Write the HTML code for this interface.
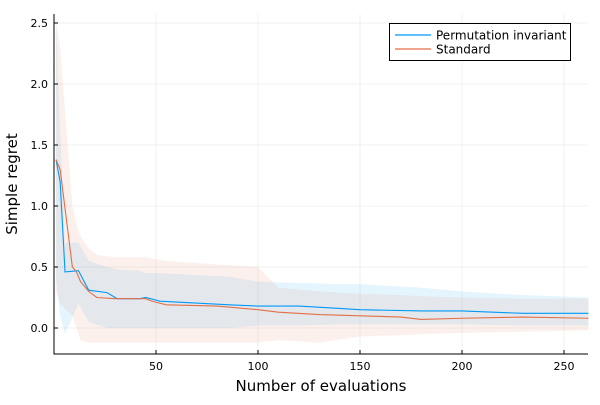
<!DOCTYPE html>
<html><head><meta charset="utf-8"><style>
body{margin:0;background:#fff;}
svg text{font-family:"DejaVu Sans","Liberation Sans",sans-serif;}
</style></head><body>
<svg id="chart" width="600" height="400" xmlns="http://www.w3.org/2000/svg">
<g id="grid"></g>
<g id="bands"></g>
<g id="lines"></g>
<g id="axes"></g>
<text x="321" y="391" font-size="15" text-anchor="middle" fill="#000">Number of evaluations</text>
<text x="17" y="184" font-size="15" text-anchor="middle" fill="#000" transform="rotate(-90 17 184)">Simple regret</text>
<g>
<rect x="389.5" y="23.5" width="181" height="37" fill="#fff" stroke="#000" stroke-width="1"/>
<line x1="395" y1="35" x2="431" y2="35" stroke="#009AFA" stroke-width="1.2"/>
<text x="436" y="39.5" font-size="12" fill="#000">Permutation invariant</text>
<line x1="395" y1="49" x2="431" y2="49" stroke="#E36F47" stroke-width="1.2"/>
<text x="436" y="53.5" font-size="12" fill="#000">Standard</text>
</g>
</svg>
<script>
const xTicks=[50,100,150,200,250];
const yTicks=[0,0.5,1.0,1.5,2.0,2.5];
const yTickLabels=["0.0","0.5","1.0","1.5","2.0","2.5"];
const permX=[1,3,5.4,12,17,26,31,42,45,52,86,100,120,140,150,180,200,230,262];
const permMean=[1.38,1.2,0.46,0.47,0.31,0.29,0.24,0.24,0.25,0.22,0.19,0.18,0.18,0.16,0.15,0.14,0.14,0.12,0.12];
const permUpper=[2.5,1.6,0.7,0.7,0.55,0.5,0.48,0.47,0.45,0.45,0.42,0.38,0.37,0.36,0.36,0.33,0.3,0.27,0.25];
const permLower=[0.4,0.1,-0.05,0.2,0.05,0.0,0.0,0.0,0.0,0.0,0.0,0.02,0.02,0.03,0.03,0.03,0.03,0.02,0.02];
const stdX=[1,3,9,11,13,17,21,30,45,48,55,80,100,110,130,150,170,180,200,230,262];
const stdMean=[1.38,1.3,0.5,0.46,0.38,0.30,0.25,0.24,0.24,0.22,0.19,0.18,0.15,0.13,0.11,0.10,0.09,0.07,0.08,0.09,0.08];
const stdUpper=[2.5,2.3,1.0,0.85,0.75,0.65,0.6,0.58,0.58,0.57,0.55,0.52,0.5,0.33,0.3,0.28,0.27,0.26,0.25,0.24,0.24];
const stdLower=[0.3,0.2,0.1,0.0,-0.1,-0.12,-0.12,-0.12,-0.12,-0.12,-0.12,-0.12,-0.12,-0.1,-0.12,-0.07,-0.06,-0.05,-0.04,-0.03,-0.02];

const L=54,R=588,T=14,B=354;
const xs=v=>54+(v)*2.04;
const ys=v=>328-v*122;
const NS="http://www.w3.org/2000/svg";
function mk(tag,attrs,parent){const e=document.createElementNS(NS,tag);for(const k in attrs)e.setAttribute(k,attrs[k]);parent.appendChild(e);return e;}
const grid=document.getElementById('grid'),axes=document.getElementById('axes'),bands=document.getElementById('bands'),lines=document.getElementById('lines');
xTicks.forEach(t=>{
  const g=mk('line',{x1:xs(t),x2:xs(t),y1:T,y2:B,stroke:'#000','stroke-opacity':0.1,'stroke-width':0.5},grid);
  
  
  const tk=mk('line',{x1:xs(t),x2:xs(t),y1:B,y2:B-4,stroke:'#000','stroke-width':1},axes);
  
  
  const tx=mk('text',{x:xs(t),y:B+16,'font-size':11,'text-anchor':'middle',fill:'#000'},axes);
  tx.textContent=t;
  
  
});
yTicks.forEach((t,i)=>{
  const g=mk('line',{x1:L,x2:R,y1:ys(t),y2:ys(t),stroke:'#000','stroke-opacity':0.1,'stroke-width':0.5},grid);
  
  
  const tk=mk('line',{x1:L,x2:L+4,y1:ys(t),y2:ys(t),stroke:'#000','stroke-width':1},axes);
  
  
  const tx=mk('text',{x:L-6,y:ys(t)+4,'font-size':11,'text-anchor':'end',fill:'#000'},axes);
  tx.textContent=yTickLabels[i];
  
  
});
const ax=mk('path',{d:`M${L},${T}V${B}H${R}`,fill:'none',stroke:'#000','stroke-width':1},axes);


function band(X,U,Lo,color,name){
  let d='M'+X.map((x,i)=>xs(x)+','+ys(U[i])).join('L');
  d+='L'+X.slice().reverse().map((x,j)=>{const i=X.length-1-j;return xs(x)+','+ys(Lo[i]);}).join('L')+'Z';
  const p=mk('path',{d:d,fill:color,'fill-opacity':0.1,stroke:'none'},bands);
  
  
}
function line(X,M,color,name){
  const p=mk('polyline',{points:X.map((x,i)=>xs(x)+','+ys(M[i])).join(' '),fill:'none',stroke:color,'stroke-width':1.1},lines);
  
  
}
band(permX,permUpper,permLower,'#009AFA','permutation-band');
band(stdX,stdUpper,stdLower,'#E36F47','standard-band');
line(permX,permMean,'#009AFA','permutation-line');
line(stdX,stdMean,'#E36F47','standard-line');
</script>
</body></html>
